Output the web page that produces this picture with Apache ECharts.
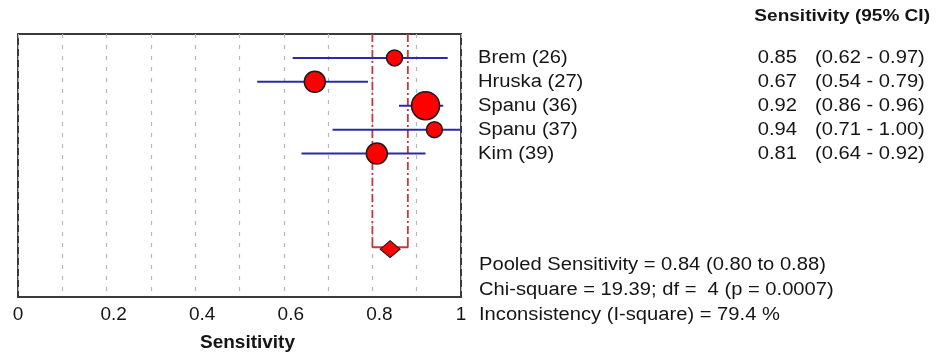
<!DOCTYPE html>
<html>
<head>
<meta charset="utf-8">
<script src="https://cdn.jsdelivr.net/npm/echarts@6/dist/echarts.min.js"></script>
<style>
  html, body { margin: 0; padding: 0; background: #fff; }
  #chart { width: 941px; height: 357px; }
</style>
</head>
<body>
<div id="chart"></div>
<script>
// Forest plot of per-study sensitivity with 95% confidence intervals
const studies = ['Brem (26)', 'Hruska (27)', 'Spanu (36)', 'Spanu (37)', 'Kim (39)'];
const sensitivity = [0.85, 0.67, 0.92, 0.94, 0.81];
const ciLow = [0.62, 0.54, 0.86, 0.71, 0.64];
const ciHigh = [0.97, 0.79, 0.96, 1.00, 0.92];
const weights = [16, 21, 28, 16, 21];          // marker diameters (study weight)
const rows = [1, 2, 3, 4, 5];

const pooled = { est: 0.84, lo: 0.80, hi: 0.88, row: 9 };
const statsLines = [
  'Pooled Sensitivity = 0.84 (0.80 to 0.88)',
  'Chi-square = 19.39; df =  4 (p = 0.0007)',
  'Inconsistency (I-square) = 79.4 %'
];
const xTicks = [0, 0.2, 0.4, 0.6, 0.8, 1];

const FONT = '"Liberation Sans", Arial, sans-serif';
const SX = 1.12;   // horizontal stretch of the side-table text
const TXT = '#151515';
const POOL_RED = '#c43a3a';

const chart = echarts.init(document.getElementById('chart'), null, { renderer: 'canvas' });

const rowTable = rows.map((r, i) => [sensitivity[i], r, i]);

chart.setOption({
  animation: false,
  backgroundColor: '#fff',
  grid: {
    left: 18, top: 34, width: 443, height: 266,
    show: true, borderColor: '#3a3a3a', borderWidth: 2, backgroundColor: 'transparent'
  },
  xAxis: {
    type: 'value', min: 0, max: 1, interval: 0.1,
    axisLine: { show: false },
    axisTick: { show: false },
    splitLine: { show: true, lineStyle: { color: '#b8b8b8', width: 1.2, type: [4, 7] } },
    axisLabel: {
      margin: 8,
      color: TXT,
      fontFamily: FONT,
      fontSize: 19,
      formatter: function (v) {
        const r = Math.round(v * 10) / 10;
        if (!xTicks.some(t => Math.abs(t - r) < 1e-9)) return '';
        if (r === 0 || r === 1) return String(r);
        return '{m|' + r.toFixed(1) + '}';
      },
      rich: { m: { fontFamily: FONT, fontSize: 19, color: TXT, padding: [0, 0, 0, 14] } }
    },
    name: 'Sensitivity',
    nameLocation: 'middle',
    nameGap: 36,
    nameTextStyle: { fontFamily: FONT, fontSize: 19, fontWeight: 'bold', color: TXT, padding: [0, 0, 0, 16] }
  },
  yAxis: {
    type: 'value', min: 0, max: 11, inverse: true, show: false,
    splitLine: { show: false }
  },
  series: [
    // pooled estimate: dash-dot verticals at the CI bounds
    {
      type: 'line', silent: true, symbol: 'none', z: 2,
      lineStyle: { color: POOL_RED, width: 1.8, type: [8, 3, 2, 3] },
      data: [[pooled.lo, 0], [pooled.lo, pooled.row - 0.5], null, [pooled.hi, 0], [pooled.hi, pooled.row - 0.5]],
      connectNulls: false
    },
    // pooled estimate: bracket under the dashed lines
    {
      type: 'line', silent: true, symbol: 'none', z: 2,
      lineStyle: { color: POOL_RED, width: 1.8 },
      data: [[pooled.lo, pooled.row - 0.5], [pooled.lo, pooled.row - 0.08], [pooled.hi, pooled.row - 0.08], [pooled.hi, pooled.row - 0.5]]
    },
    // confidence interval bars
    {
      type: 'custom', z: 3, silent: true,
      data: rows.map((r, i) => [ciLow[i], ciHigh[i], r]),
      renderItem: function (params, api) {
        const a = api.coord([api.value(0), api.value(2)]);
        const b = api.coord([api.value(1), api.value(2)]);
        return {
          type: 'line',
          shape: { x1: a[0], y1: a[1], x2: b[0], y2: b[1] },
          style: { stroke: '#2b2ba8', lineWidth: 2 }
        };
      }
    },
    // study point estimates
    {
      type: 'scatter', z: 4, silent: true,
      symbol: 'circle',
      data: rows.map((r, i) => ({ value: [sensitivity[i], r], symbolSize: weights[i] })),
      itemStyle: { color: '#ff0000', borderColor: '#1a1a1a', borderWidth: 1.5, opacity: 1 }
    },
    // pooled diamond
    {
      type: 'scatter', z: 4, silent: true,
      symbol: 'diamond', symbolSize: [20, 17],
      data: [[pooled.est, pooled.row]],
      itemStyle: { color: '#ff0000', borderColor: '#1a1a1a', borderWidth: 1, opacity: 1 }
    },
    // side table: study name, estimate, interval
    {
      type: 'custom', z: 5, silent: true, clip: false,
      data: rowTable,
      renderItem: function (params, api) {
        const i = api.value(2);
        const y = api.coord([0, api.value(1)])[1];
        const base = { font: '18px ' + FONT, fill: TXT, verticalAlign: 'middle' };
        return {
          type: 'group',
          children: [
            { type: 'text', x: 478, y: y, scaleX: SX, style: Object.assign({ text: studies[i], align: 'left' }, base) },
            { type: 'text', x: 797, y: y, scaleX: SX, style: Object.assign({ text: sensitivity[i].toFixed(2), align: 'right' }, base) },
            { type: 'text', x: 815, y: y, scaleX: SX, style: Object.assign({ text: '(' + ciLow[i].toFixed(2) + ' - ' + ciHigh[i].toFixed(2) + ')', align: 'left' }, base) }
          ]
        };
      }
    }
  ],
  graphic: [
    {
      type: 'text', x: 930, y: 16, scaleX: SX,
      style: { text: 'Sensitivity (95% CI)', font: 'bold 17px ' + FONT, fill: TXT, align: 'right', verticalAlign: 'middle' }
    }
  ].concat(statsLines.map((t, k) => ({
    type: 'text', x: 479, y: 265 + k * 25, scaleX: SX,
    style: { text: t, font: '18px ' + FONT, fill: TXT, align: 'left', verticalAlign: 'middle' }
  })))
});
</script>
</body>
</html>
